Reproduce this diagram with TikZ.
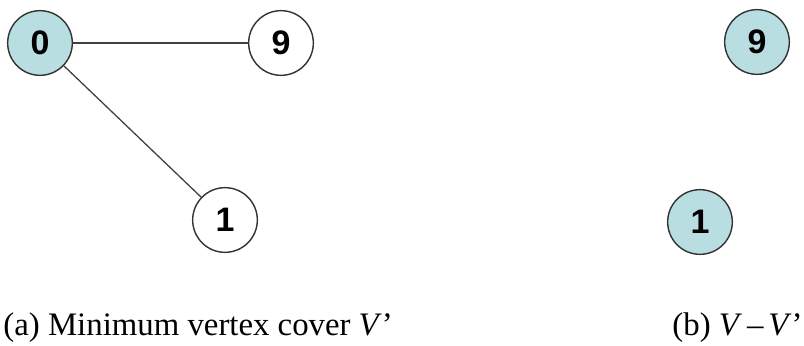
\documentclass[tikz,border=0pt]{standalone}
\usepackage{fontspec}
\setmainfont{Liberation Serif}
\newfontfamily\numfont{Liberation Sans}
\usetikzlibrary{positioning}
\definecolor{coverfill}{RGB}{185,222,226}

\begin{document}
\begin{tikzpicture}[x=0.03cm,y=-0.03cm,thick]
\tikzstyle{vtx}=[circle,draw=black!80,line width=1.2pt,minimum size=1.94cm,inner sep=0pt,font=\numfont\bfseries\fontsize{29}{29}\selectfont]
\tikzstyle{cov}=[vtx,fill=coverfill]
\tikzstyle{edge}=[draw=black!75,line width=1.1pt]
\tikzstyle{captxt}=[anchor=base west,inner sep=0pt,font=\fontsize{28}{30}\selectfont]

\useasboundingbox (0,0) rectangle (804,346);

% (a) the cover
\node[cov] (a0) at (40,43) {0};
\node[vtx] (a9) at (281,43) {9};
\node[vtx] (a1) at (225,220) {1};
\draw[edge] (a0) -- (a9);
\draw[edge] (a0) -- (a1);

% (b) what is left
\node[cov] (b9) at (757,42) {9};
\node[cov] (b1) at (700,222) {1};

% Captions
\node[captxt] (capa) at (3,336) {(a) Minimum vertex cover \textit{V}'};
\node[captxt] (capb) at (672,336) {(b) \textit{V}\hspace{0.15em}--\hspace{0.15em}\textit{V}'};
\end{tikzpicture}
\end{document}
